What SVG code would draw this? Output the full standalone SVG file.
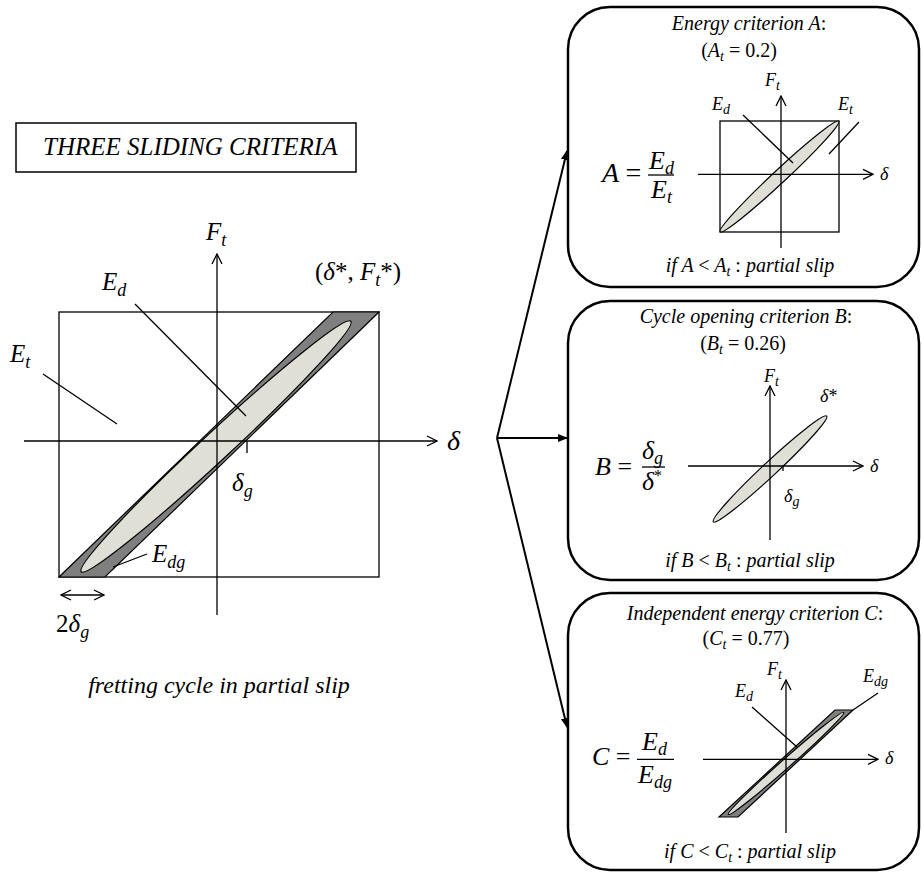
<svg xmlns="http://www.w3.org/2000/svg" width="922" height="872" viewBox="0 0 922 872">
<defs>
<style>
text{font-family:"Liberation Serif",serif;font-style:italic;fill:#000}
.n{font-style:normal}
.ln{stroke:#000;stroke-width:1.3;fill:none}
.box{fill:#fff;stroke:#000;stroke-width:2.5}
.conn{stroke:#000;stroke-width:2;fill:none}
.dark{fill:#7f7f7f;stroke:#000;stroke-width:1.2}
.light{fill:#dfdfd8;stroke:#000;stroke-width:1.2}
.big{font-size:25px}
.mid{font-size:20px}
.sm{font-size:18px}
</style>
<marker id="open" viewBox="0 0 12 12" refX="11" refY="6" markerWidth="12" markerHeight="12" markerUnits="userSpaceOnUse" orient="auto">
<path d="M1,1 L11,6 L1,11" fill="none" stroke="#000" stroke-width="1.3"/>
</marker>
<marker id="openS" viewBox="0 0 12 12" refX="1" refY="6" markerWidth="12" markerHeight="12" markerUnits="userSpaceOnUse" orient="auto">
<path d="M11,1 L1,6 L11,11" fill="none" stroke="#000" stroke-width="1.3"/>
</marker>
<marker id="fill" viewBox="0 0 10 10" refX="9" refY="5" markerWidth="10" markerHeight="10" markerUnits="userSpaceOnUse" orient="auto">
<path d="M0,1 L10,5 L0,9 Z" fill="#000"/>
</marker>
</defs>

<g id="title">
<rect x="16" y="123" width="340" height="49" fill="#fff" stroke="#000" stroke-width="1.5"/>
<text x="43" y="155" class="big">THREE SLIDING CRITERIA</text>
</g>

<g id="main-cycle">
<rect x="59" y="312" width="320" height="265" fill="none" stroke="#000" stroke-width="1.3"/>
<polygon class="dark" points="59,577 105,577 379,312 333,312"/>
<ellipse class="light" cx="216" cy="446.5" rx="184" ry="14" transform="rotate(-42.9 216 446.5)"/>
<line class="ln" x1="24" y1="441" x2="437" y2="441" marker-end="url(#open)"/>
<line class="ln" x1="217" y1="615" x2="217" y2="254" marker-end="url(#open)"/>
<line class="ln" x1="247" y1="441" x2="247" y2="453"/>
<line class="ln" x1="135" y1="304" x2="246" y2="416"/>
<line class="ln" x1="43" y1="374" x2="117" y2="424"/>
<line class="ln" x1="147" y1="554" x2="113" y2="567"/>
<line class="ln" x1="61" y1="595" x2="104" y2="595" marker-start="url(#openS)" marker-end="url(#open)"/>
<text x="206" y="240" class="big">F<tspan font-size="18" dy="6">t</tspan></text>
<text x="315" y="280" class="big"><tspan class="n">(</tspan>δ<tspan class="n">*, </tspan>F<tspan font-size="18" dy="6">t</tspan><tspan class="n" dy="-6">*)</tspan></text>
<text x="102" y="290" class="big">E<tspan font-size="18" dy="6">d</tspan></text>
<text x="10" y="362" class="big">E<tspan font-size="18" dy="6">t</tspan></text>
<text x="447" y="450" font-size="28">δ</text>
<text x="232" y="491" class="big">δ<tspan font-size="18" dy="6">g</tspan></text>
<text x="152" y="562" class="big">E<tspan font-size="18" dy="6">dg</tspan></text>
<text x="56" y="632" class="big"><tspan class="n">2</tspan>δ<tspan font-size="18" dy="6">g</tspan></text>
<text x="219" y="693" font-size="24" text-anchor="middle">fretting cycle in partial slip</text>
</g>

<g id="connectors">
<line class="conn" x1="497" y1="438" x2="567" y2="151" marker-end="url(#fill)"/>
<line class="conn" x1="497" y1="438" x2="567" y2="438" marker-end="url(#fill)"/>
<line class="conn" x1="497" y1="438" x2="567" y2="727" marker-end="url(#fill)"/>
</g>

<g id="box-A">
<rect class="box" x="568" y="7" width="351" height="280" rx="42" ry="42"/>
<text x="749" y="30" class="mid" text-anchor="middle">Energy criterion A<tspan class="n">:</tspan></text>
<text x="739" y="57" class="mid" text-anchor="middle"><tspan class="n">(</tspan>A<tspan font-size="14" dy="4">t</tspan><tspan class="n" dy="-4"> = 0.2)</tspan></text>
<rect x="720" y="121" width="119" height="111" fill="none" stroke="#000" stroke-width="1.3"/>
<ellipse class="light" cx="779.5" cy="176.5" rx="81" ry="6.5" transform="rotate(-43 779.5 176.5)"/>
<line class="ln" x1="698" y1="174.3" x2="873" y2="174.3" marker-end="url(#open)"/>
<line class="ln" x1="781" y1="248" x2="781" y2="96" marker-end="url(#open)"/>
<line class="ln" x1="743" y1="115" x2="793" y2="163"/>
<line class="ln" x1="859" y1="122" x2="829" y2="154"/>
<text x="765" y="86" class="sm">F<tspan font-size="14" dy="4">t</tspan></text>
<text x="712" y="110" class="sm">E<tspan font-size="14" dy="4">d</tspan></text>
<text x="838" y="110" class="sm">E<tspan font-size="14" dy="4">t</tspan></text>
<text x="880" y="180" class="sm">δ</text>
<text x="602" y="182" font-size="28">A <tspan class="n">=</tspan></text>
<line x1="648" y1="175" x2="674" y2="175" stroke="#000" stroke-width="1.3"/>
<text x="649" y="169" font-size="26">E<tspan font-size="18" dy="5">d</tspan></text>
<text x="651" y="198" font-size="26">E<tspan font-size="18" dy="5">t</tspan></text>
<text x="750" y="272" class="mid" text-anchor="middle">if A <tspan class="n">&lt;</tspan> A<tspan font-size="14" dy="4">t</tspan><tspan dy="-4"> <tspan class="n">:</tspan> partial slip</tspan></text>
</g>

<g id="box-B">
<rect class="box" x="568" y="301" width="351" height="279" rx="42" ry="42"/>
<text x="746" y="323" class="mid" text-anchor="middle">Cycle opening criterion B<tspan class="n">:</tspan></text>
<text x="743" y="350" class="mid" text-anchor="middle"><tspan class="n">(</tspan>B<tspan font-size="14" dy="4">t</tspan><tspan class="n" dy="-4"> = 0.26)</tspan></text>
<ellipse class="light" cx="770" cy="469" rx="77.5" ry="7" transform="rotate(-43 770 469)"/>
<line class="ln" x1="688" y1="466" x2="863" y2="466" marker-end="url(#open)"/>
<line class="ln" x1="770" y1="540" x2="770" y2="386" marker-end="url(#open)"/>
<line class="ln" x1="783" y1="466" x2="783" y2="471"/>
<text x="764" y="382" class="sm">F<tspan font-size="14" dy="4">t</tspan></text>
<text x="820" y="402" class="sm">δ<tspan class="n">*</tspan></text>
<text x="870" y="472" class="sm">δ</text>
<text x="784" y="502" class="sm">δ<tspan font-size="14" dy="4">g</tspan></text>
<text x="595" y="475" font-size="26">B <tspan class="n">=</tspan></text>
<line x1="642" y1="467" x2="665" y2="467" stroke="#000" stroke-width="1.3"/>
<text x="642" y="459" font-size="26">δ<tspan font-size="18" dy="5">g</tspan></text>
<text x="642" y="490" font-size="26">δ<tspan class="n" font-size="16" dy="-9">*</tspan></text>
<text x="750" y="567" class="mid" text-anchor="middle">if B <tspan class="n">&lt;</tspan> B<tspan font-size="14" dy="4">t</tspan><tspan dy="-4"> <tspan class="n">:</tspan> partial slip</tspan></text>
</g>

<g id="box-C">
<rect class="box" x="568" y="593" width="351" height="277" rx="42" ry="42"/>
<text x="755" y="620" class="mid" text-anchor="middle">Independent energy criterion C<tspan class="n">:</tspan></text>
<text x="746" y="645" class="mid" text-anchor="middle"><tspan class="n">(</tspan>C<tspan font-size="14" dy="4">t</tspan><tspan class="n" dy="-4"> = 0.77)</tspan></text>
<polygon class="dark" points="719,817 738,817 853,710 835,710"/>
<ellipse class="light" cx="786" cy="763.5" rx="77" ry="4.5" transform="rotate(-41.5 786 763.5)"/>
<line class="ln" x1="703" y1="759.3" x2="878" y2="759.3" marker-end="url(#open)"/>
<line class="ln" x1="786" y1="833" x2="786" y2="680" marker-end="url(#open)"/>
<line class="ln" x1="752" y1="707" x2="797" y2="747"/>
<line class="ln" x1="878" y1="693" x2="853" y2="710"/>
<text x="767" y="675" class="sm">F<tspan font-size="14" dy="4">t</tspan></text>
<text x="735" y="697" class="sm">E<tspan font-size="14" dy="4">d</tspan></text>
<text x="863" y="682" class="sm">E<tspan font-size="14" dy="4">dg</tspan></text>
<text x="885" y="764" class="sm">δ</text>
<text x="592" y="765" font-size="26">C <tspan class="n">=</tspan></text>
<line x1="637" y1="759.3" x2="674" y2="759.3" stroke="#000" stroke-width="1.3"/>
<text x="642" y="750" font-size="26">E<tspan font-size="18" dy="5">d</tspan></text>
<text x="638" y="783" font-size="26">E<tspan font-size="18" dy="5">dg</tspan></text>
<text x="750" y="858" class="mid" text-anchor="middle">if C <tspan class="n">&lt;</tspan> C<tspan font-size="14" dy="4">t</tspan><tspan dy="-4"> <tspan class="n">:</tspan> partial slip</tspan></text>
</g>
</svg>
